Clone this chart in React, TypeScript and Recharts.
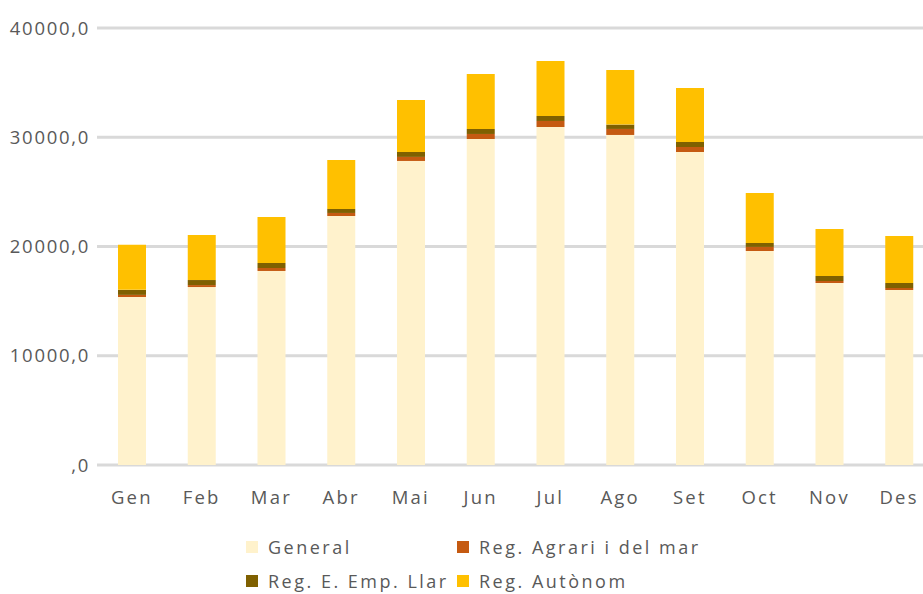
import { Bar, BarChart, CartesianGrid, XAxis, YAxis } from "recharts"

const months = ["Gen", "Feb", "Mar", "Abr", "Mai", "Jun", "Jul", "Ago", "Set", "Oct", "Nov", "Des"]
const general = [15380, 16290, 17760, 22790, 27830, 29840, 30940, 30210, 28650, 19590, 16660, 16020]
const agrari = [190, 180, 270, 280, 370, 460, 550, 550, 460, 370, 180, 180]
const llar = [460, 460, 460, 370, 460, 460, 460, 400, 460, 370, 460, 460]
const autonom = [4120, 4120, 4210, 4480, 4750, 5030, 5030, 5000, 4940, 4570, 4300, 4300]
const yTicks = [0, 10000, 20000, 30000, 40000]

const series = [
  { key: "general", name: "General", color: "#FFF2CC" },
  { key: "agrari", name: "Reg. Agrari i del mar", color: "#C55A11" },
  { key: "llar", name: "Reg. E. Emp. Llar", color: "#7F6000" },
  { key: "autonom", name: "Reg. Autònom", color: "#FFC000" },
]

const data = months.map((m, i) => ({
  month: m,
  general: general[i],
  agrari: agrari[i],
  llar: llar[i],
  autonom: autonom[i],
}))

const font = "'Open Sans', sans-serif"
const textColor = "#595959"

// legend order in the picture: General, Agrari / Llar, Autònom
const legendPos = [
  { left: 246, top: 547 },
  { left: 457, top: 547 },
  { left: 246, top: 581 },
  { left: 457, top: 581 },
]

export default function App() {
  return (
    <div
      style={{
        position: "absolute",
        left: 0,
        top: 0,
        width: 923,
        height: 594,
        overflow: "hidden",
        background: "#fff",
        fontFamily: font,
      }}
    >
      <BarChart
        width={940}
        height={594}
        data={data}
        margin={{ top: 28, right: 6, left: 0, bottom: 0 }}
        barSize={28}
      >
        <CartesianGrid vertical={false} stroke="#d9d9d9" strokeWidth={3} />
        <XAxis
          dataKey="month"
          axisLine={false}
          tickLine={false}
          tickSize={0}
          tickMargin={26}
          height={129}
          interval={0}
          tick={{ fill: textColor, fontSize: 18.5, letterSpacing: 2.2, fontFamily: font }}
        />
        <YAxis
          domain={[0, 40000]}
          ticks={yTicks}
          width={97}
          axisLine={false}
          tickLine={false}
          tickSize={0}
          tickMargin={7}
          tickFormatter={(v: number) => (v === 0 ? ",0" : `${v},0`)}
          tick={{ fill: textColor, fontSize: 18.5, letterSpacing: 1.7, fontFamily: font }}
        />
        {series.map((s) => (
          <Bar
            key={s.key}
            dataKey={s.key}
            name={s.name}
            stackId="a"
            fill={s.color}
            isAnimationActive={false}
          />
        ))}
      </BarChart>
      {series.map((s, i) => (
        <div
          key={s.key}
          style={{
            position: "absolute",
            left: legendPos[i].left,
            top: legendPos[i].top - 12,
            height: 24,
            display: "flex",
            alignItems: "center",
            fontSize: 18,
            letterSpacing: 2.5,
            color: textColor,
            whiteSpace: "nowrap",
          }}
        >
          <span
            style={{
              width: 12,
              height: 12,
              background: s.color,
              marginRight: 10,
              display: "inline-block",
            }}
          />
          {s.name}
        </div>
      ))}
    </div>
  )
}
